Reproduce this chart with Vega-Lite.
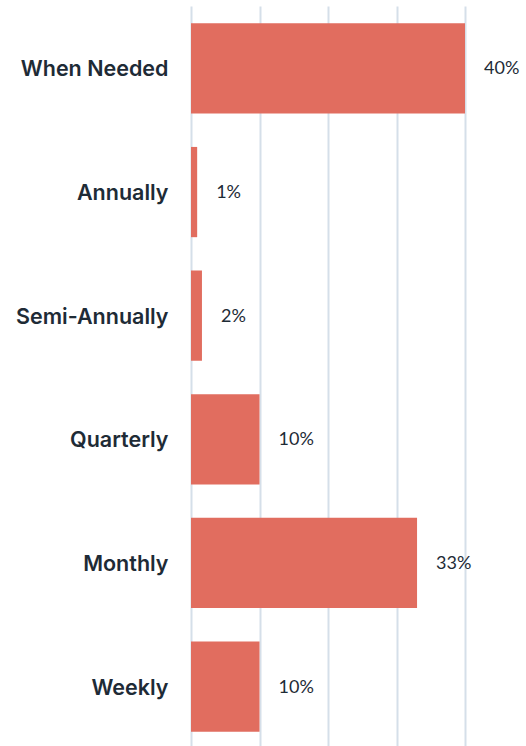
{
  "$schema": "https://vega.github.io/schema/vega-lite/v6.json",
  "autosize": {"type": "none"},
  "width": 274,
  "height": 743,
  "padding": {"left": 191, "top": 6, "right": 61, "bottom": 0},
  "background": "white",
  "config": {"view": {"stroke": null}},
  "data": {
    "values": [
      {"frequency": "When Needed", "percent": 40, "label": "40%"},
      {"frequency": "Annually", "percent": 0.9, "label": "1%"},
      {"frequency": "Semi-Annually", "percent": 1.6, "label": "2%"},
      {"frequency": "Quarterly", "percent": 10, "label": "10%"},
      {"frequency": "Monthly", "percent": 33, "label": "33%"},
      {"frequency": "Weekly", "percent": 10, "label": "10%"}
    ]
  },
  "encoding": {
    "y": {
      "field": "frequency",
      "type": "nominal",
      "sort": null,
      "scale": {"paddingInner": 0.27, "paddingOuter": 0.14},
      "axis": {
        "title": null,
        "domain": false,
        "ticks": false,
        "labelPadding": 23,
        "labelOffset": 2,
        "labelFont": "Inter",
        "labelFontSize": 21.5,
        "labelFontWeight": 600,
        "labelColor": "#1e2b36"
      }
    },
    "x": {
      "field": "percent",
      "type": "quantitative",
      "scale": {"domain": [0, 40], "nice": false},
      "axis": {
        "title": null,
        "labels": false,
        "ticks": false,
        "domain": false,
        "values": [0, 10, 20, 30, 40],
        "grid": true,
        "gridColor": "#d5dfe9",
        "gridWidth": 2,
        "gridOpacity": 1
      }
    }
  },
  "layer": [
    {"mark": {"type": "bar", "color": "#e16d5f", "clip": false}},
    {
      "mark": {
        "type": "text",
        "align": "left",
        "baseline": "middle",
        "dx": 19,
        "dy": 1,
        "font": "Lato",
        "fontSize": 18,
        "color": "#1e2b36",
        "clip": false
      },
      "encoding": {"text": {"field": "label"}}
    }
  ]
}
